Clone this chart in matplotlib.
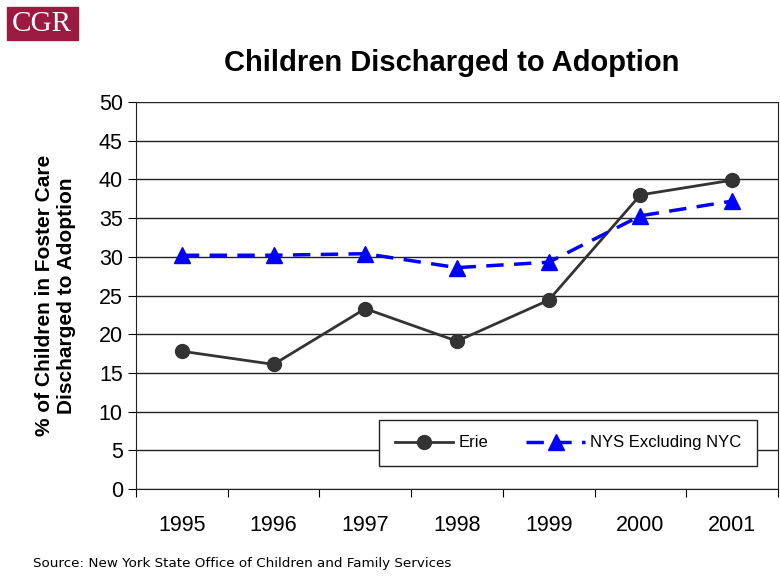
import matplotlib
matplotlib.use("Agg")
import matplotlib.pyplot as plt
import numpy as np
from matplotlib.patches import Rectangle

plt.rcParams['font.family'] = ['Liberation Sans', 'DejaVu Sans']

years = ['1995', '1996', '1997', '1998', '1999', '2000', '2001']
erie = [17.8, 16.1, 23.3, 19.1, 24.4, 38.0, 39.9]
nys = [30.2, 30.2, 30.4, 28.6, 29.3, 35.3, 37.2]

fig = plt.figure(figsize=(7.8, 5.77), dpi=100)
ax = fig.add_axes([136/780, 1-489/577, 642/780, 387/577])

x = np.arange(len(years))
ax.plot(x, erie, color='#333333', lw=2, marker='o', ms=10, label='Erie')
ax.plot(x, nys, color='#0000ff', lw=2.5, ls=(0, (5, 3)), marker='^', ms=11,
        label='NYS Excluding NYC')

ax.set_xlim(-0.5, len(years) - 0.5)
ax.set_ylim(0, 50)
ax.set_yticks(np.arange(0, 51, 5))
ax.yaxis.grid(True, color='#222222', lw=1)
ax.set_axisbelow(True)

# ticks between categories, labels at centres
ax.set_xticks(np.arange(-0.5, len(years), 1))
ax.set_xticklabels([])
ax.set_xticks(x, minor=True)
ax.set_xticklabels(years, minor=True, fontsize=15.5)
ax.tick_params(axis='x', which='minor', length=0, pad=19)
ax.tick_params(axis='x', which='major', length=6, direction='out')
ax.tick_params(axis='y', labelsize=15.5, length=6, direction='out')
for s in ax.spines.values():
    s.set_color('#222222')
ax.spines['top'].set_visible(False)

ax.set_ylabel('% of Children in Foster Care\nDischarged to Adoption',
              fontsize=15, fontweight='bold', labelpad=16, linespacing=1.2)
fig.text(452/780, 1-63/577, 'Children Discharged to Adoption',
         fontsize=21, fontweight='bold', ha='center', va='center')

leg = ax.legend(loc='lower right', bbox_to_anchor=(0.967, 0.059), ncol=2,
                frameon=True, fancybox=False, fontsize=12, handlelength=3.5,
                handletextpad=0.3, columnspacing=2.3, borderpad=0.95,
                framealpha=1, borderaxespad=0)
leg.get_frame().set_edgecolor('#222222')
leg.get_frame().set_linewidth(1)

# CGR logo
fig.patches.append(Rectangle((7/780, 1-40/577), 71/780, 33/577,
                             transform=fig.transFigure, color='#9a1a40'))
fig.text(42/780, 1-24/577, 'CGR', color='white', fontsize=21,
         family='Liberation Serif', ha='center', va='center')

fig.text(33/780, 1-564/577, 'Source: New York State Office of Children and Family Services',
         fontsize=9.7, family='DejaVu Sans', ha='left', va='center')

fig.savefig('out.png', dpi=100)
